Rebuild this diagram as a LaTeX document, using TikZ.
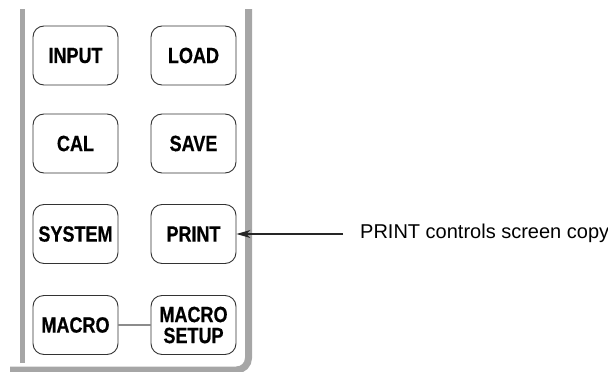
\documentclass[tikz,border=0pt]{standalone}
\usepackage{fontspec}
\setmainfont{Liberation Sans}
\newfontfamily\keyfont[FakeStretch=0.82,FakeBold=0.6]{Liberation Sans}
\usetikzlibrary{arrows.meta}

\begin{document}
\begin{tikzpicture}[
            x=1pt, y=-1pt,
            key/.style={draw=black!80, line width=0.9pt, rounded corners=11pt,
                        minimum width=85pt, minimum height=59pt, inner sep=1pt,
                        align=center, font=\keyfont\bfseries\fontsize{22}{22}\selectfont},
            panel/.style={draw=black!35, line width=6pt},
            link/.style={draw=black!45, line width=1.2pt},
            pointer/.style={draw=black!85, line width=1.1pt,
                            -{Stealth[length=14pt, width=8pt, inset=4pt]}},
            note/.style={inner sep=0pt, font=\fontsize{20}{22}\selectfont}
        ]
        \useasboundingbox (0,0) rectangle (608,372);

        % Panel frame
        \draw[panel, line width=5pt] (22.5,9) -- (22.5,363);
        \draw[panel, line width=7pt, rounded corners=12pt] (248.5,9) -- (248.5,370) -- (10,370);

        % Left column keys
        \node[key] (INPUT)  at (75.5,55.5)  {INPUT};
        \node[key] (CAL)    at (75.5,143.5) {CAL};
        \node[key] (SYSTEM) at (75.5,234)   {SYSTEM};
        \node[key] (MACRO)  at (75.5,325)   {MACRO};

        % Right column keys
        \node[key] (LOAD)   at (193.5,55.5)  {LOAD};
        \node[key] (SAVE)   at (193.5,143.5) {SAVE};
        \node[key] (PRINT)  at (193.5,234)   {PRINT};
        \node[key] (MSETUP) at (193.5,325)   {MACRO\\[-1pt]SETUP};

        % Key link
        \draw[link] (MACRO) -- (MSETUP);

        % Callout
        \coordinate (tail) at (343,234);
        \node[note, anchor=west] (note) at (360,233) {PRINT controls screen copy};
        \draw[pointer] (tail) -- (PRINT);
    \end{tikzpicture}
\end{document}
